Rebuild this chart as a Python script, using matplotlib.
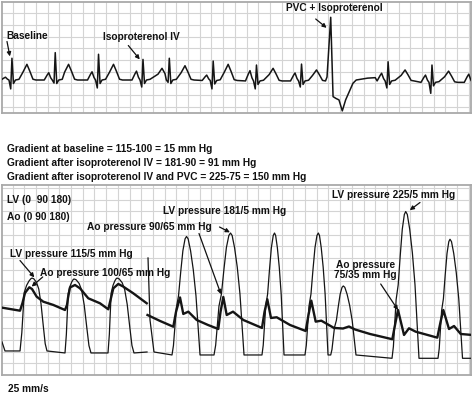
import numpy as np
import matplotlib
matplotlib.use('Agg')
import matplotlib.pyplot as plt

plt.rcParams['font.family'] = ['Liberation Sans', 'DejaVu Sans']

W, H = 474, 395

# ---------------- data ----------------
# ECG: time of each R wave (s) and wave amplitudes (mV)
ecg_r_t   = [0.17, 0.91, 1.65, 2.41, 2.86, 3.61, 4.35, 5.12, 6.60, 7.35, 8.09]
ecg_base  = [0.00, 0.00, 0.00, 0.00, 0.00, -0.02, -0.04, -0.04, -0.04, -0.10, -0.10]
ecg_r     = [0.93, 1.17, 1.10, 0.88, 0.93, 0.81, 0.64, 0.68, 0.78, 0.64, 0.70]
ecg_q     = [-0.38, -0.13, -0.34, -0.30, -0.10, -0.38, -0.38, -0.30, -0.34, -0.57, -0.40]
ecg_p     = [0.12, 0.31, 0.35, 0.38, None, 0.21, 0.40, 0.30, 0.29, 0.21, 0.25]
ecg_t     = [0.67, 0.67, 0.67, 0.50, 0.61, 0.67, 0.50, 0.43, 0.43, 0.38, 0.0]
ecg_t_lag = [0.256, 0.228, 0.256, 0.325, 0.268, 0.256, 0.284, 0.256, 0.29, 0.284, 0.27]
# premature ventricular complex
pvc_t = [5.556, 5.619, 5.659, 5.710, 5.760, 5.817, 5.874, 5.999, 6.055, 6.250, 6.380]
pvc_v = [0.13, 2.68, -0.71, -0.79, -0.85, -1.32, -0.85, -0.14, 0.00, 0.08, 0.10]

# LV pressure (s, mmHg) -- first run (before isoproterenol)
lv1_start_t = [0.0, 0.051]
lv1_start_p = [23.8, 10.8]
lv1_on   = [0.308, 1.077, 1.812]
lv1_pk_t = [0.513, 1.231, 1.966]
lv1_end  = [0.769, 1.521, 2.256]
lv1_pk   = [116.0, 114.7, 116.0]
lv1_dia  = [10.8, 7.9, 7.9]
lv1_stop = (2.479, 9.3)
# LV pressure -- second run (isoproterenol, PVC)
lv2_start_t = [2.496, 2.530, 2.598]
lv2_start_p = [145.0, 55.5, 9.3]
lv2_on   = [2.906, 3.624, 4.444, 5.179, 5.619, 6.667, 7.453]
lv2_pk_t = [3.154, 3.906, 4.658, 5.407, 5.834, 6.901, 7.658]
lv2_end  = [3.385, 4.137, 4.821, 5.573, 6.051, 7.128, 7.872]
lv2_pk   = [176.0, 181.0, 181.0, 181.0, 104.6, 212.0, 172.0]
lv2_dia  = [5.0, 5.0, 5.0, 5.0, 5.0, 0.2, 0.2]
lv2_stop = (8.034, 0.2)

# Aortic pressure (s, mmHg)
ao1_t = [0.000, 0.308, 0.350, 0.393, 0.467, 0.513, 0.593, 0.706, 0.877, 1.077, 1.111,
         1.128, 1.162, 1.248, 1.333, 1.475, 1.675, 1.817, 1.855, 1.903, 1.988, 2.074,
         2.244, 2.474]
ao1_p = [73.3, 68.9, 80.0, 94.5, 102.7, 100.2, 89.1, 81.9, 77.2, 69.9, 77.2,
         87.3, 102.4, 106.0, 101.2, 86.8, 79.6, 70.9, 84.4, 101.2, 107.5, 103.6,
         94.0, 79.6]
ao2_t = [2.487, 2.701, 2.928, 2.974, 3.043, 3.099, 3.185, 3.328, 3.521, 3.697, 3.735,
         3.783, 3.841, 3.949, 4.125, 4.444, 4.487, 4.535, 4.598, 4.696, 4.923, 5.191,
         5.239, 5.287, 5.362, 5.458, 5.675, 5.829, 5.931, 6.034, 6.290, 6.672, 6.718,
         6.769, 6.872, 6.957, 7.072, 7.441, 7.496, 7.544, 7.641, 7.727, 7.841, 8.034]
ao2_p = [62.7, 54.1, 45.8, 67.0, 88.0, 64.2, 67.5, 55.5, 48.3, 42.5, 67.0,
         88.7, 62.7, 67.5, 55.5, 44.0, 67.0, 85.4, 58.4, 59.4, 48.3, 39.6,
         62.7, 83.4, 53.1, 54.5, 44.0, 43.2, 46.1, 41.8, 35.3, 27.7, 48.3,
         69.9, 33.9, 43.5, 38.6, 30.0, 52.6, 69.9, 42.5, 46.8, 35.3, 33.9]

gradient_lines = ["Gradient at baseline = 115-100 = 15 mm Hg",
                  "Gradient after isoproterenol IV = 181-90 = 91 mm Hg",
                  "Gradient after isoproterenol IV and PVC = 225-75 = 150 mm Hg"]
scale_labels = ["LV (0  90 180)", "Ao (0 90 180)"]

# ---------------- shape templates ----------------
RISE_BROAD = ([0, 0.15, 0.35, 0.55, 0.75, 0.9, 1.0], [0, 0.25, 0.8, 0.9, 0.96, 0.99, 1.0])
FALL_BROAD = ([0.12, 0.3, 0.45, 0.6, 0.75, 0.88, 1.0], [0.99, 0.94, 0.85, 0.65, 0.35, 0.1, 0.0])
RISE_NARROW = ([0, 0.1, 0.3, 0.45, 0.6, 0.75, 0.9, 1.0], [0, 0.08, 0.4, 0.5, 0.7, 0.88, 0.98, 1.0])
FALL_NARROW = ([0.12, 0.3, 0.5, 0.7, 0.88, 1.0], [0.98, 0.88, 0.72, 0.5, 0.2, 0.0])


def ecg_points(i):
    r, b = ecg_r_t[i], ecg_base[i]
    pts = []
    P = ecg_p[i]
    if P is not None:
        pts += [(-0.188, b), (-0.137, b + 0.7 * (P - b)), (-0.111, P), (-0.077, b + 0.3 * (P - b))]
    pts += [(-0.051, b), (-0.021, ecg_q[i]), (0.0, ecg_r[i]), (0.026, b - 0.15), (0.06, b),
            (0.12, b + 0.03)]
    T, lag = ecg_t[i], ecg_t_lag[i]
    pts += [(lag - 0.068, b + 0.5 * (T - b)), (lag, T), (lag + 0.051, b + 0.55 * (T - b)),
            (lag + 0.103, b + 0.05 * (T - b)), (lag + 0.154, b)]
    return [(r + dt, v) for dt, v in pts]


def build_ecg():
    groups = [ecg_points(i) for i in range(len(ecg_r_t))]
    groups.insert(8, list(zip(pvc_t, pvc_v)))
    ts, vs = [], []
    for j, g in enumerate(groups):
        nxt = groups[j + 1][0][0] if j + 1 < len(groups) else np.inf
        for t, v in g:
            if t < nxt and (not ts or t > ts[-1]):
                ts.append(t)
                vs.append(v)
    return ts, vs


def lv_trace(start_t, start_p, on, pk_t, end, pk, dia, stop, rise, fall):
    ts, ps = list(start_t), list(start_p)
    for o, tp, e, P, d in zip(on, pk_t, end, pk, dia):
        for u, h in zip(*rise):
            ts.append(o + u * (tp - o))
            ps.append(d + h * (P - d))
        for u, h in zip(*fall):
            ts.append(tp + u * (e - tp))
            ps.append(d + h * (P - d))
    ts.append(stop[0])
    ps.append(stop[1])
    return ts, ps


# ---------------- figure ----------------
fig = plt.figure(figsize=(W / 100, H / 100), dpi=100)
fig.patch.set_facecolor('white')


def fr(x, y):
    return (x / W, 1 - y / H)


def panel(x0, y0, x1, y1):
    ax = fig.add_axes([x0 / W, 1 - y1 / H, (x1 - x0) / W, (y1 - y0) / H])
    ax.set_xticks([])
    ax.set_yticks([])
    for s in ax.spines.values():
        s.set_color('#a9a9a9')
        s.set_linewidth(1.3)
    return ax


GRID = dict(color='#d4d4d4', lw=0.8, zorder=0)
XMAX = 8.017

# top ECG panel
ax1 = panel(2, 1.5, 471, 113)
ax1.set_xlim(0, XMAX)
ax1.set_ylim(-1.41, 3.355)
for gx in np.arange(0.18, XMAX, 0.2):
    ax1.axvline(gx, **GRID)
for gy in np.arange(3.355 - 0.5, -1.41, -0.5):
    ax1.axhline(gy, **GRID)
et, ev = build_ecg()
ax1.plot(et, ev, color='#151515', lw=1.1, solid_joinstyle='round', zorder=3)

# bottom pressure panel
ax2 = panel(2, 185, 471, 375)
ax2.set_xlim(0, XMAX)
ax2.set_ylim(-23.9, 250.3)
for gx in np.arange(0.18, XMAX, 0.2):
    ax2.axvline(gx, **GRID)
for gy in np.arange(-23.9 + 16.88, 250.3, 16.88):
    ax2.axhline(gy, **GRID)
t1, p1 = lv_trace(lv1_start_t, lv1_start_p, lv1_on, lv1_pk_t, lv1_end, lv1_pk, lv1_dia,
                  lv1_stop, RISE_BROAD, FALL_BROAD)
t2, p2 = lv_trace(lv2_start_t, lv2_start_p, lv2_on, lv2_pk_t, lv2_end, lv2_pk, lv2_dia,
                  lv2_stop, RISE_NARROW, FALL_NARROW)
for tt, pp in ((t1, p1), (t2, p2)):
    ax2.plot(tt, pp, color='#151515', lw=0.9, zorder=3)
for tt, pp in ((ao1_t, ao1_p), (ao2_t, ao2_p)):
    ax2.plot(tt, pp, color='#151515', lw=1.7, zorder=4)

# ---------------- text ----------------
TXT = dict(fontsize=7.3, fontweight='bold', color='#111111', va='center', ha='left')
ARR = dict(arrowstyle='-|>', color='#111111', lw=0.9, mutation_scale=6, shrinkA=0, shrinkB=0)


def label(x, y, s, **kw):
    d = dict(TXT)
    d.update(kw)
    fig.text(*fr(x, y), s, **d)


def arrow(ax, xy, x0, y0):
    ax.annotate('', xy=xy, xycoords='data', xytext=fr(x0, y0), textcoords='figure fraction',
                arrowprops=ARR, zorder=6, annotation_clip=False)


label(6.7, 36, "Baseline")
arrow(ax1, (ecg_r_t[0] - 0.035, ecg_r[0] + 0.08), 7, 41.5)
label(103.3, 36.7, "Isoproterenol IV")
arrow(ax1, (ecg_r_t[3] - 0.055, ecg_r[3] + 0.0), 128.3, 45.5)
label(285.7, 8.3, "PVC + Isoproterenol")
arrow(ax1, (pvc_t[1] - 0.07, pvc_v[1] - 0.45), 315.7, 19)

for k, s in enumerate(gradient_lines):
    label(6.7, 149 + 14.2 * k, s)

label(6.7, 200, scale_labels[0])
label(6.7, 217.3, scale_labels[1])

label(10, 254, "LV pressure 115/5 mm Hg")
arrow(ax2, (lv1_pk_t[0] + 0.04, lv1_pk[0] + 1), 20, 260.5)
label(40, 272.7, "Ao pressure 100/65 mm Hg")
arrow(ax2, (ao1_t[4] + 0.04, ao1_p[4] + 1), 42.7, 277)
label(87.3, 227.3, "Ao pressure 90/65 mm Hg")
arrow(ax2, (ao2_t[11] - 0.04, ao2_p[11] + 4), 199, 233.5)
label(163.3, 210.7, "LV pressure 181/5 mm Hg")
arrow(ax2, (lv2_pk_t[1] - 0.01, lv2_pk[1] + 1), 219.5, 227)
label(332.3, 195, "LV pressure 225/5 mm Hg")
arrow(ax2, (lv2_pk_t[5] + 0.07, lv2_pk[5] + 2), 420, 202.5)
label(365.5, 270, "Ao pressure\n75/35 mm Hg", ha='center', linespacing=1.05)
arrow(ax2, (ao2_t[33], ao2_p[33]), 380.7, 284)

label(8.3, 389.3, "25 mm/s")

fig.savefig('out.png', dpi=100, facecolor='white')
